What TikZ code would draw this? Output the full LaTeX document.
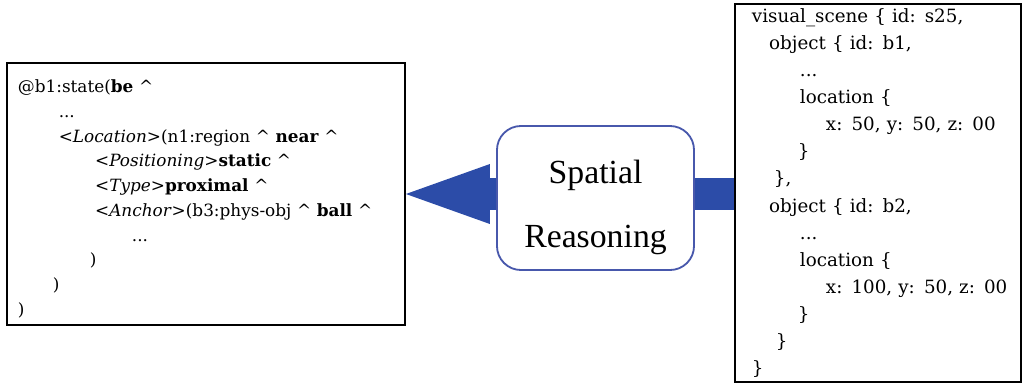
\documentclass[tikz,border=0pt]{standalone}
\usepackage{fontspec}
\setmainfont{DejaVu Serif}
\newfontfamily\reasonfont{Liberation Serif}
\usetikzlibrary{arrows.meta}
\definecolor{arrowblue}{RGB}{44,76,168}
\definecolor{boxblue}{RGB}{72,88,172}
\newcommand{\ind}[1]{\hspace*{#1cm}}
\newcommand{\up}{\textasciicircum}
\newcommand{\toppad}[1]{\rule{0pt}{#1pt}}

\begin{document}
\begin{tikzpicture}[x=0.025cm,y=-0.025cm,
  codebox/.style={draw,line width=1.2pt,align=left,inner ysep=0pt},
  reasonbox/.style={draw=boxblue,line width=1.3pt,rounded corners=0.6cm,fill=white,
    minimum width=4.925cm,minimum height=3.6cm,align=center,
    font=\reasonfont\fontsize{24}{46}\selectfont},
  fatarrow/.style={arrowblue,line width=0.8cm}]
\useasboundingbox (0,0) rectangle (1028,383);

% logical form
\node[codebox,minimum height=6.55cm,text width=9.4cm,inner xsep=0.275cm,
  font=\fontsize{12}{17.6}\selectfont] (lbox) at (206,194) {
\toppad{16}@b1:state(\textbf{be} \up\\
\ind{1.02}...\\
\ind{1.02}<\textit{Location}>(n1:region \up\ \textbf{near} \up\\
\ind{1.93}<\textit{Positioning}>\textbf{static} \up\\
\ind{1.93}<\textit{Type}>\textbf{proximal} \up\\
\ind{1.93}<\textit{Anchor}>(b3:phys-obj \up\ \textbf{ball} \up\\
\ind{2.85}...\\
\ind{1.8})\\
\ind{0.875})\\
)};

% scene
\node[codebox,minimum height=9.45cm,text width=6.75cm,inner xsep=0.2cm,
  font=\fontsize{13}{19.3}\selectfont] (rbox) at (878,193) {
\ind{0.225}visual\_scene \{ id: s25,\\
\ind{0.655}object \{ id: b1,\\
\ind{1.425}...\\
\ind{1.425}location \{\\
\ind{2.075}x: 50, y: 50, z: 00\\
\ind{1.375}\}\\
\ind{0.775}\},\\
\ind{0.655}object \{ id: b2,\\
\ind{1.425}...\\
\ind{1.425}location \{\\
\ind{2.075}x: 100, y: 50, z: 00\\
\ind{1.375}\}\\
\ind{0.825}\}\\
\ind{0.225}\}};

\node[reasonbox] (sr) at (595.5,198) {\toppad{30}Spatial\\Reasoning};

\draw[fatarrow,-{Triangle[width=1.5cm,length=2.1cm,line width=0pt]}] (sr.west |- lbox.east) -- (lbox.east);
\draw[fatarrow] (sr.east |- lbox.east) -- (rbox.west |- lbox.east);
\end{tikzpicture}
\end{document}
